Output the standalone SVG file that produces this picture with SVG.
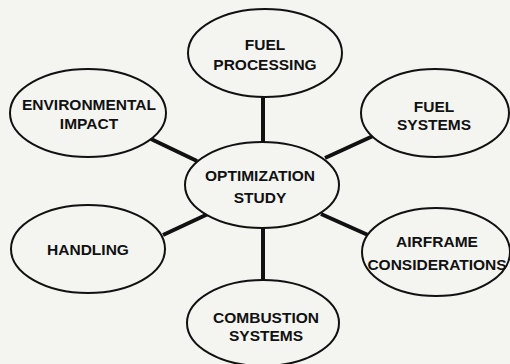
<svg xmlns="http://www.w3.org/2000/svg" width="510" height="364" viewBox="0 0 510 364">
<style>
.bg{fill:#f4f4f1}
.node ellipse{fill:#f4f4f1;stroke:#111;stroke-width:2}
.node text{font-family:"Liberation Sans",Arial,sans-serif;font-weight:bold;font-size:15.5px;fill:#111;text-anchor:middle}
.conn line{stroke:#111;stroke-width:4;stroke-linecap:butt}
</style>
<rect class="bg" x="0" y="0" width="510" height="364"/>
<g id="connectors" class="conn">
<line x1="263" y1="96" x2="263" y2="143"/>
<line x1="263" y1="228" x2="263" y2="281"/>
<line x1="151" y1="139" x2="197" y2="161"/>
<line x1="325" y1="158" x2="373" y2="136"/>
<line x1="163" y1="235" x2="208" y2="214"/>
<line x1="321" y1="214" x2="368" y2="235"/>
</g>
<g id="fuel-processing" class="node">
<ellipse cx="265" cy="53" rx="77" ry="44"/>
<text x="265" y="50">FUEL</text>
<text x="265" y="70">PROCESSING</text>
</g>
<g id="environmental-impact" class="node">
<ellipse cx="88" cy="113" rx="78" ry="44"/>
<text x="89" y="110">ENVIRONMENTAL</text>
<text x="89" y="129">IMPACT</text>
</g>
<g id="fuel-systems" class="node">
<ellipse cx="435" cy="113" rx="74" ry="44"/>
<text x="434" y="112">FUEL</text>
<text x="434" y="130">SYSTEMS</text>
</g>
<g id="optimization-study" class="node">
<ellipse cx="262" cy="185" rx="77" ry="43"/>
<text x="260" y="181">OPTIMIZATION</text>
<text x="260" y="203">STUDY</text>
</g>
<g id="handling" class="node">
<ellipse cx="88" cy="249" rx="77" ry="44"/>
<text x="88" y="255">HANDLING</text>
</g>
<g id="airframe-considerations" class="node">
<ellipse cx="436" cy="252" rx="74" ry="44"/>
<text x="437" y="247">AIRFRAME</text>
<text x="437" y="270">CONSIDERATIONS</text>
</g>
<g id="combustion-systems" class="node">
<ellipse cx="263" cy="323" rx="76" ry="43"/>
<text x="266" y="323">COMBUSTION</text>
<text x="266" y="341">SYSTEMS</text>
</g>
</svg>
